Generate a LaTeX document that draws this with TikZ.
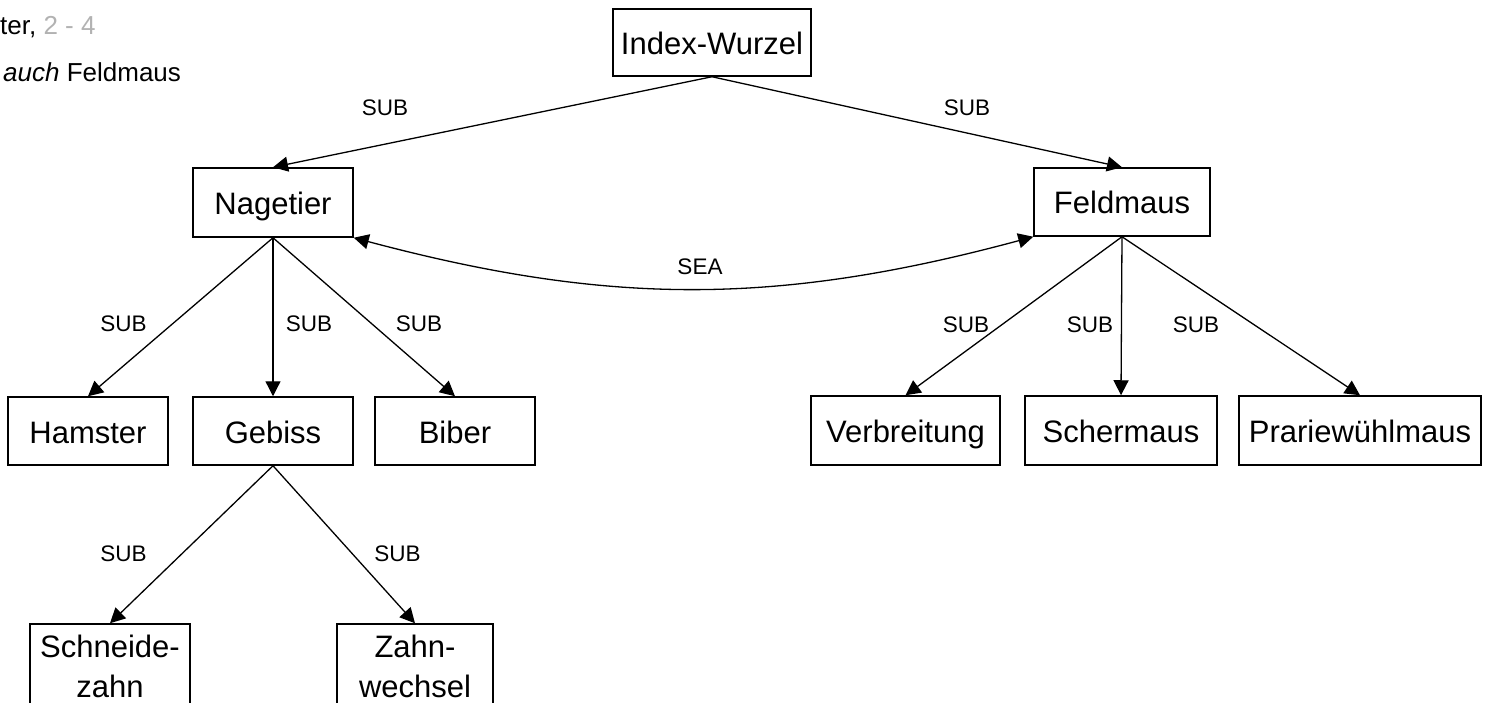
\documentclass[tikz,border=0pt]{standalone}
\usepackage{fontspec}
\setmainfont{Liberation Sans}
\usetikzlibrary{arrows.meta}
\definecolor{lightgraytext}{RGB}{178,178,178}
\begin{document}
\begin{tikzpicture}[x=1pt,y=-1pt,
  box/.style={draw, line width=1.5pt, inner sep=0pt, font=\fontsize{31}{40}\selectfont, minimum height=68pt, text height=24pt, text depth=0pt},
  boxtwo/.style={draw, line width=1.5pt, inner sep=0pt, font=\fontsize{31}{40}\selectfont, align=center},
  lbl/.style={font=\fontsize{22.5}{27}\selectfont, inner sep=0pt},
  note/.style={font=\fontsize{26}{31}\selectfont, inner sep=0pt},
  conn/.style={line width=1.3pt, -{Triangle[length=15pt,width=15pt]}},
  sea/.style={line width=1.3pt, {Triangle[length=15pt,width=15pt]}-{Triangle[length=15pt,width=15pt]}},
]
\useasboundingbox (0,0) rectangle (1488,703);

% top-left text fragments
\node[note, anchor=base west] (t1) at (0,35) {ter, \textcolor{lightgraytext}{2 - 4}};
\node[note, anchor=base west] (t2) at (3,82) {\textit{auch} Feldmaus};

% boxes
\node[box, minimum width=198pt, minimum height=67pt] (root) at (712,42.5) {Index-Wurzel};
\node[box, minimum width=160pt, minimum height=69pt] (nag) at (273,202.5) {Nagetier};
\node[box, minimum width=176pt] (feld) at (1122,202) {Feldmaus};

\node[box, minimum width=160pt] (ham) at (88,431) {Hamster};
\node[box, minimum width=160pt] (geb) at (273,431) {Gebiss};
\node[box, minimum width=160pt] (bib) at (455,431) {Biber};

\node[box, minimum width=189pt, minimum height=69pt] (verb) at (905.5,430.5) {Verbreitung};
\node[box, minimum width=192pt, minimum height=69pt] (scher) at (1121,430.5) {Schermaus};
\node[box, minimum width=242pt, minimum height=69pt] (prar) at (1360,430.5) {Prariewühlmaus};

\node[boxtwo, minimum width=160pt, minimum height=84pt] (schn) at (110,666) {Schneide-\\zahn};
\node[boxtwo, minimum width=156pt, minimum height=84pt] (zahn) at (415,666) {Zahn-\\wechsel};

% connectors
\draw[conn] (root.south) -- (nag.north);
\draw[conn] (root.south) -- (feld.north);
\draw[conn] (nag.south) -- (ham.north);
\draw[conn] (nag.south) -- (geb.north);
\draw[conn] (nag.south) -- (bib.north);
\draw[conn] (geb.south) -- (schn.north);
\draw[conn] (geb.south) -- (zahn.north);
\draw[conn] (feld.south) -- (verb.north);
\draw[conn] (feld.south) -- (scher.north);
\draw[conn] (feld.south) -- (prar.north);
\draw[sea] (nag.south east) to[bend right=15] (feld.south west);

% labels
\node[lbl] (l1) at (385,107.5) {SUB};
\node[lbl] (l2) at (967,107.5) {SUB};
\node[lbl] (l3) at (123.5,324) {SUB};
\node[lbl] (l4) at (309,324) {SUB};
\node[lbl] (l5) at (419,324) {SUB};
\node[lbl] (l6) at (966,325) {SUB};
\node[lbl] (l7) at (1090,325) {SUB};
\node[lbl] (l8) at (1196,325) {SUB};
\node[lbl] (l9) at (123.5,553.5) {SUB};
\node[lbl] (l10) at (397.5,553.5) {SUB};
\node[lbl] (l11) at (700,267) {SEA};
\end{tikzpicture}
\end{document}
